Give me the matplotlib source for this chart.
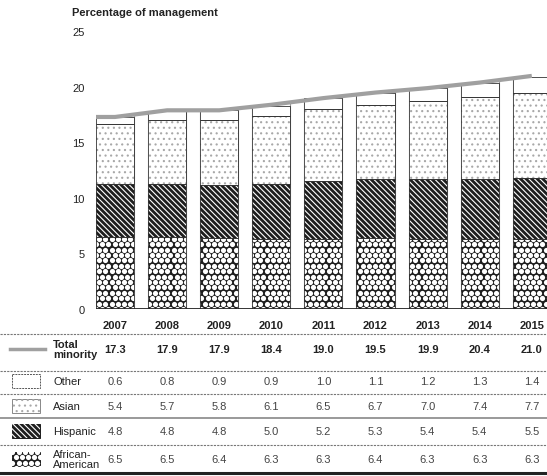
"""
Minority share of management, 2007-2015: stacked bars with a data table underneath.
"""

import numpy as np
import matplotlib
matplotlib.use("Agg")
import matplotlib.pyplot as plt
from matplotlib import transforms

plt.rcParams["font.family"] = ["Liberation Sans", "DejaVu Sans"]
plt.rcParams["hatch.linewidth"] = 0.8

# ── Data ──────────────────────────────────────────────────────────────────────
years = ["2007", "2008", "2009", "2010", "2011", "2012", "2013", "2014", "2015"]
african_american = [6.5, 6.5, 6.4, 6.3, 6.3, 6.4, 6.3, 6.3, 6.3]
hispanic = [4.8, 4.8, 4.8, 5.0, 5.2, 5.3, 5.4, 5.4, 5.5]
asian = [5.4, 5.7, 5.8, 6.1, 6.5, 6.7, 7.0, 7.4, 7.7]
other = [0.6, 0.8, 0.9, 0.9, 1.0, 1.1, 1.2, 1.3, 1.4]
total_minority = [17.3, 17.9, 17.9, 18.4, 19.0, 19.5, 19.9, 20.4, 21.0]

W, H = 547, 477
fig = plt.figure(figsize=(W / 100, H / 100), dpi=100)

# main plot, placed in pixel terms
ax_l, ax_r, ax_b, ax_t = 96, 547, 310, 32.5
ax = fig.add_axes([ax_l / W, 1 - ax_b / H, (ax_r - ax_l) / W, (ax_b - ax_t) / H])

n = len(years)
x = np.arange(n)
bw = 0.73
dark = "#1e1e1e"
HATCH_HI = "\\" * 6
HATCH_AS = "." * 3


def disc_grid(w_px, h_px, step=6.2):
    """hex grid of dot centres (axes fraction) used as the 'pebble' texture"""
    ys = np.arange(0, h_px + step, step * 0.87)
    px, py = [], []
    for k, yy in enumerate(ys):
        xs = np.arange(0 if k % 2 == 0 else step / 2, w_px + step, step)
        px.extend(xs)
        py.extend([yy] * len(xs))
    return np.array(px) / w_px, np.array(py) / h_px


# white gaps between bars, up to the total line
gx = x[:-1] + 0.5
gh = [(a + b) / 2 for a, b in zip(total_minority[:-1], total_minority[1:])]
ax.bar(gx, gh, width=1 - bw, color="white", edgecolor="#9a9a9a", linewidth=0.8, zorder=1)
ax.bar([x[-1] + 0.5], [total_minority[-1]], width=1 - bw, color="white",
       edgecolor="#9a9a9a", linewidth=0.8, zorder=1)

aa = np.array(african_american)
hi = np.array(hispanic)
asn = np.array(asian)
oth = np.array(other)

# African-American: white discs on dark
aa_bars = ax.bar(x, aa, width=bw, color=dark, linewidth=0, zorder=2)
dx, dy = disc_grid(ax_r - ax_l, ax_b - ax_t)
for rect in aa_bars:
    sc = ax.scatter(dx, dy, s=14, color="white", linewidths=0,
                    transform=ax.transAxes, zorder=3)
    sc.set_clip_path(rect)
# Hispanic: white diagonals on dark
ax.bar(x, hi, bottom=aa, width=bw, color=dark, linewidth=0, zorder=2)
ax.bar(x, hi, bottom=aa, width=bw, color="none", edgecolor="white", linewidth=0,
       hatch=HATCH_HI, zorder=3)
# Asian: light stipple
ax.bar(x, asn, bottom=aa + hi, width=bw, color="white", linewidth=0, zorder=2)
ax.bar(x, asn, bottom=aa + hi, width=bw, color="none", edgecolor="#a8a8a8",
       linewidth=0, hatch=HATCH_AS, zorder=3)
# Other: plain white
ax.bar(x, oth, bottom=aa + hi + asn, width=bw, color="white", linewidth=0, zorder=2)

# thin outlines on every segment
for vals, bot in [(aa, 0), (hi, aa), (asn, aa + hi), (oth, aa + hi + asn)]:
    ax.bar(x, vals, bottom=bot, width=bw, color="none", edgecolor="#333333",
           linewidth=0.6, zorder=4)

# total minority line
lx = np.concatenate([[x[0] - bw / 2], x])
ly = np.concatenate([[total_minority[0]], total_minority])
ax.plot(lx, ly, color="#a0a0a0", linewidth=3.0, solid_capstyle="butt", zorder=5)

ax.axhline(0, color="#222222", linewidth=2, zorder=6)

ax.set_xlim(-bw / 2, (ax_r - 115) / 52.1)
ax.set_ylim(0, 25)
ax.set_yticks([0, 5, 10, 15, 20, 25])
ax.set_xticks([])
ax.tick_params(axis="y", length=0, pad=8, labelsize=8, labelcolor="#222222")
for s in ax.spines.values():
    s.set_visible(False)

fig.text(72 / W, 1 - 13 / H, "Percentage of management", fontsize=8,
         fontweight="bold", color="#222222", va="center", ha="left")

# ── Table underneath ──────────────────────────────────────────────────────────
ov = fig.add_axes([0, 0, 1, 1])
ov.set_xlim(0, W)
ov.set_ylim(H, 0)
ov.axis("off")
col = transforms.blended_transform_factory(ax.transData, ov.transData)

for i, yr in enumerate(years):
    ov.text(i, 326, yr, transform=col, ha="center", va="center",
            fontsize=8, fontweight="bold", color="#222222")

rows = [
    ("Total\nminority", total_minority, 350, True),
    ("Other", other, 382, False),
    ("Asian", asian, 407, False),
    ("Hispanic", hispanic, 432, False),
    ("African-\nAmerican", african_american, 460, False),
]
for label, vals, ry, bold in rows:
    ov.text(53, ry, label, ha="left", va="center", fontsize=8,
            fontweight="bold" if bold else "normal", color="#222222",
            linespacing=1.0)
    for i, v in enumerate(vals):
        ov.text(i, ry, f"{v:.1f}", transform=col, ha="center", va="center",
                fontsize=8, fontweight="bold" if bold else "normal",
                color="#222222" if bold else "#444444")

# separators
for sy, c, lw, ls in [(335, "#777777", 0.8, (0, (2, 1))), (372, "#777777", 0.8, (0, (2, 1))),
                      (395, "#777777", 0.8, (0, (2, 1))), (419, "#999999", 1.4, "-"),
                      (446, "#777777", 0.8, (0, (2, 1))), (474, "#222222", 2.2, "-")]:
    ov.plot([0, W], [sy, sy], color=c, linewidth=lw, linestyle=ls)

# legend swatches
sw_x, sw_w, sw_h = 12, 28, 14
ov.plot([10, 45], [350, 350], color="#a0a0a0", linewidth=2.5)
for ry, fc, ec, hatch, hc in [(382, "white", "#555555", None, None),
                              (407, "white", "#888888", HATCH_AS, "#a8a8a8"),
                              (432, dark, dark, HATCH_HI, "white"),
                              (460, dark, dark, None, None)]:
    r = plt.Rectangle((sw_x, ry - sw_h / 2), sw_w, sw_h, facecolor=fc, edgecolor=ec,
                      linewidth=0.7, linestyle=(0, (2, 1)) if fc == "white" and hatch is None else "-")
    ov.add_patch(r)
    if hatch:
        ov.add_patch(plt.Rectangle((sw_x, ry - sw_h / 2), sw_w, sw_h, facecolor="none",
                                   edgecolor=hc, linewidth=0, hatch=hatch))
    if ry == 460:
        sx, sy2 = disc_grid(W, H)
        sc = ov.scatter(sx * W, sy2 * H, s=14, color="white", linewidths=0)
        sc.set_clip_path(r)

fig.savefig("out.png", dpi=100)
